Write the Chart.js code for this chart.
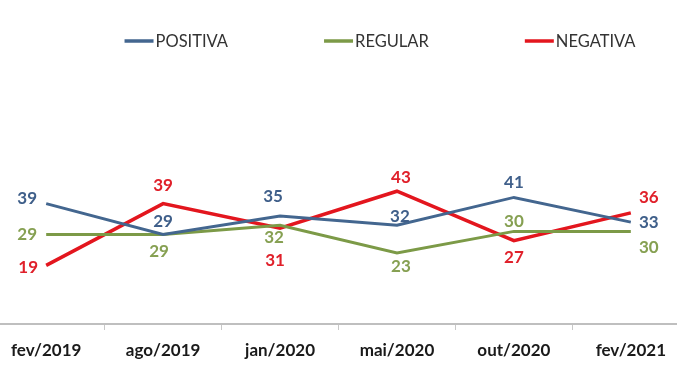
<!DOCTYPE html>
<html>
<head>
<meta charset="utf-8">
<script src="https://cdn.jsdelivr.net/npm/chart.js@4"></script>
<style>
  html, body { margin: 0; padding: 0; background: #fff; }
  #wrap { width: 677px; height: 369px; }
</style>
</head>
<body>
<div id="wrap"><canvas id="myChart" width="677" height="369"></canvas></div>
<script>
var periods = ["fev/2019", "ago/2019", "jan/2020", "mai/2020", "out/2020", "fev/2021"];
var positiva = [39, 29, 35, 32, 41, 33];
var regular = [29, 29, 32, 23, 30, 30];
var negativa = [19, 39, 31, 43, 27, 36];

// where each value label sits relative to its point (dx, dy)
var posOffsets = [[-19, -5], [0, -13], [-7, -19], [3, -9], [0, -15], [18, 0]];
var regOffsets = [[-19, 0], [-4, 17], [-6, 12], [4, 14], [0, -10], [18, 16]];
var negOffsets = [[-18, 2], [0, -18], [-5, 32], [4, -14], [0, 17], [18, -15]];

var labelFont = "bold 17px Lato";

var valueLabels = {
    id: "valueLabels",
    afterDatasetsDraw: function (chart) {
        var ctx = chart.ctx;
        ctx.save();
        ctx.font = labelFont;
        ctx.textAlign = "center";
        ctx.textBaseline = "middle";
        chart.data.datasets.forEach(function (ds, i) {
            var meta = chart.getDatasetMeta(i);
            ctx.fillStyle = ds.labelColor;
            meta.data.forEach(function (pt, j) {
                var off = ds.offsets[j];
                ctx.fillText(ds.data[j], pt.x + off[0], pt.y + off[1]);
            });
        });
        ctx.restore();
    }
};

// legend drawn like the original: long line markers, wide gaps, shifted right
var topLegend = {
    id: "topLegend",
    afterDraw: function (chart) {
        var ctx = chart.ctx;
        var lineW = 29, gapText = 2, gapItem = 96;
        ctx.save();
        ctx.font = "16.5px Lato";
        ctx.textBaseline = "middle";
        var widths = chart.data.datasets.map(function (ds) {
            return lineW + gapText + ctx.measureText(ds.label).width;
        });
        var total = widths.reduce(function (a, b) { return a + b; }, 0) + gapItem * (widths.length - 1);
        var x = 380 - total / 2;
        var y = 41;
        chart.data.datasets.forEach(function (ds, i) {
            ctx.strokeStyle = ds.borderColor;
            ctx.lineWidth = 3.5;
            ctx.beginPath();
            ctx.moveTo(x, y);
            ctx.lineTo(x + lineW, y);
            ctx.stroke();
            ctx.fillStyle = "#333333";
            ctx.fillText(ds.label, x + lineW + gapText, y + 1);
            x += widths[i] + gapItem;
        });
        ctx.restore();
    }
};

// base line across the full width
var baseLine = {
    id: "baseLine",
    beforeDatasetsDraw: function (chart) {
        var ctx = chart.ctx;
        var y = chart.scales.x.top;
        ctx.save();
        ctx.strokeStyle = "#bfbfbf";
        ctx.lineWidth = 2;
        ctx.beginPath();
        ctx.moveTo(0, y);
        ctx.lineTo(chart.width, y);
        ctx.stroke();
        ctx.restore();
    }
};

var ctx = document.getElementById("myChart").getContext("2d");
var myChart = new Chart(ctx, {
    type: "line",
    data: {
        labels: periods,
        datasets: [
            {
                label: "POSITIVA",
                data: positiva,
                borderColor: "#43668F",
                labelColor: "#3F5F8A",
                offsets: posOffsets,
                borderWidth: 3,
                pointRadius: 0,
                fill: false
            },
            {
                label: "REGULAR",
                data: regular,
                borderColor: "#7C9A47",
                labelColor: "#86A052",
                offsets: regOffsets,
                borderWidth: 3,
                pointRadius: 0,
                fill: false
            },
            {
                label: "NEGATIVA",
                data: negativa,
                borderColor: "#E3161E",
                labelColor: "#E0202A",
                offsets: negOffsets,
                borderWidth: 3.5,
                pointRadius: 0,
                fill: false
            }
        ]
    },
    options: {
        responsive: false,
        animation: false,
        layout: { padding: { top: 77, left: 22, right: 42, bottom: 0 } },
        plugins: {
            legend: { display: false },
            tooltip: { enabled: false }
        },
        scales: {
            x: {
                offset: false,
                grid: {
                    offset: true,
                    drawOnChartArea: false,
                    drawTicks: true,
                    tickLength: 6,
                    color: "#c8c8c8"
                },
                border: { display: false },
                ticks: {
                    color: "#1a1a1a",
                    font: { family: "Lato", size: 17, weight: "bold", lineHeight: 1.1 },
                    padding: 11,
                    maxRotation: 0,
                    autoSkip: false
                },
                afterFit: function (scale) { scale.height = 45; }
            },
            y: {
                min: 0,
                max: 80,
                ticks: { display: false },
                grid: { display: false },
                border: { display: false },
                afterFit: function (scale) { scale.width = 24; }
            }
        }
    },
    plugins: [baseLine, valueLabels, topLegend]
});
</script>
</body>
</html>
